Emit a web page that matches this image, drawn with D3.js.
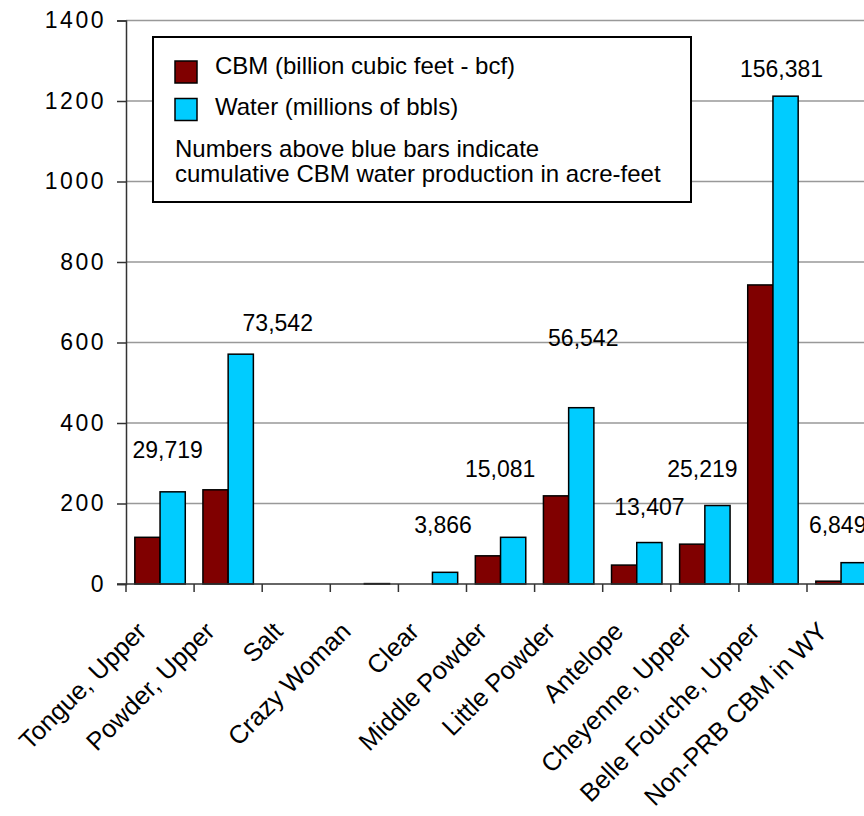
<!DOCTYPE html>
<html>
<head>
<meta charset="utf-8">
<script src="https://cdn.jsdelivr.net/npm/d3@7"></script>
<style>
  body { margin: 0; background: #fff; }
  text { font-family: "Liberation Sans", Arial, sans-serif; fill: #000; }
</style>
</head>
<body>
<div id="chart"></div>
<script>
// data
var categories = ["Tongue, Upper", "Powder, Upper", "Salt", "Crazy Woman", "Clear",
  "Middle Powder", "Little Powder", "Antelope", "Cheyenne, Upper",
  "Belle Fourche, Upper", "Non-PRB CBM in WY"];
var cbm   = [116, 234, 0, 0, 0, 70, 219, 47, 99, 743, 7];      // billion cubic feet
var water = [229, 571, 0, 1, 29, 116, 438, 103, 195, 1212, 53]; // millions of bbls
var acreFeet = [29719, 73542, null, null, 3866, 15081, 56542, 13407, 25219, 156381, 6849];
var yTicks = [0, 200, 400, 600, 800, 1000, 1200, 1400];

// where the hand placed annotation labels sit: [x shift px from blue bar centre, baseline in chart units]
var labelPlace = [[-5, 313], [37, 629], null, null, [-2, 127], [-13, 266],
  [2, 591], [0, 171], [-15, 266], [-4, 1260], [-16, 127]];

var width = 864, height = 816;
var plotLeft = 126, plotTop = 20.5, plotBottom = 584, step = 68.1;

var svg = d3.select("#chart").append("svg")
  .attr("width", width).attr("height", height);
svg.append("rect").attr("width", width).attr("height", height).attr("fill", "#fff");

var x = d3.scaleBand().domain(categories)
  .range([plotLeft, plotLeft + step * categories.length]).padding(0);
var xSub = d3.scaleBand().domain(["cbm", "water"])
  .range([0, x.bandwidth()]).paddingInner(0).paddingOuter(0.35);
var y = d3.scaleLinear().domain([0, 1400]).range([plotBottom, plotTop]);

// gridlines
svg.selectAll("line.grid")
  .data(yTicks.filter(function(d) { return d > 0; }))
  .enter().append("line")
  .attr("class", "grid")
  .attr("x1", plotLeft).attr("x2", width)
  .attr("y1", function(d) { return y(d); })
  .attr("y2", function(d) { return y(d); })
  .attr("stroke", "#999").attr("stroke-width", 1.5);

// bars
var rows = categories.map(function(c, i) {
  return { cat: c, cbm: cbm[i], water: water[i] };
});
var groups = svg.selectAll("g.cat").data(rows).enter().append("g")
  .attr("transform", function(d) { return "translate(" + x(d.cat) + ",0)"; });

groups.filter(function(d) { return d.cbm > 0; })
  .append("rect")
  .attr("x", xSub("cbm")).attr("width", xSub.bandwidth())
  .attr("y", function(d) { return y(d.cbm); })
  .attr("height", function(d) { return y(0) - y(d.cbm); })
  .attr("fill", "#800000").attr("stroke", "#000").attr("stroke-width", 1.5);

groups.filter(function(d) { return d.water > 0; })
  .append("rect")
  .attr("x", xSub("water")).attr("width", xSub.bandwidth())
  .attr("y", function(d) { return y(d.water); })
  .attr("height", function(d) { return y(0) - y(d.water); })
  .attr("fill", "#00ccff").attr("stroke", "#000").attr("stroke-width", 1.5);

// y axis
var yAxis = d3.axisLeft(y).tickValues(yTicks).tickFormat(d3.format("d"))
  .tickSize(9).tickPadding(11);
var ya = svg.append("g").attr("transform", "translate(" + plotLeft + ",0)").call(yAxis);
ya.select(".domain").attr("stroke", "#333").attr("stroke-width", 1.5);
ya.selectAll(".tick line").attr("stroke", "#333").attr("stroke-width", 1.5);
ya.selectAll(".tick text")
  .style("font-family", "Liberation Sans, Arial, sans-serif")
  .style("font-size", "23px").style("letter-spacing", "2.5px").attr("fill", "#000");

// x axis
svg.append("line")
  .attr("x1", plotLeft - 9).attr("x2", width)
  .attr("y1", plotBottom).attr("y2", plotBottom)
  .attr("stroke", "#333").attr("stroke-width", 1.5);
svg.selectAll("line.xtick")
  .data(categories).enter().append("line")
  .attr("x1", function(d) { return x(d); })
  .attr("x2", function(d) { return x(d); })
  .attr("y1", plotBottom).attr("y2", plotBottom + 8)
  .attr("stroke", "#333").attr("stroke-width", 1.5);

svg.selectAll("text.cat")
  .data(categories).enter().append("text")
  .attr("transform", function(d) {
    return "translate(" + (x(d) + x.bandwidth() / 2 - 12) + "," + (plotBottom + 49) + ") rotate(-45)";
  })
  .attr("text-anchor", "end")
  .style("font-size", "25.5px")
  .text(function(d) { return d; });

// acre-feet annotations
var fmt = d3.format(",");
acreFeet.forEach(function(v, i) {
  if (v == null) return;
  var cx = x(categories[i]) + xSub("water") + xSub.bandwidth() / 2 + labelPlace[i][0];
  svg.append("text")
    .attr("x", cx).attr("y", y(labelPlace[i][1]))
    .attr("text-anchor", "middle")
    .style("font-size", "23px")
    .text(fmt(v));
});

// legend
var lg = svg.append("g");
lg.append("rect")
  .attr("x", 153).attr("y", 37).attr("width", 538).attr("height", 165)
  .attr("fill", "#fff").attr("stroke", "#000").attr("stroke-width", 2);
var keys = [
  { label: "CBM (billion cubic feet - bcf)", color: "#800000" },
  { label: "Water (millions of bbls)", color: "#00ccff" }
];
keys.forEach(function(k, i) {
  lg.append("rect")
    .attr("x", 175).attr("y", 61 + i * 37.5).attr("width", 22).attr("height", 22)
    .attr("fill", k.color).attr("stroke", "#000").attr("stroke-width", 1.5);
  lg.append("text")
    .attr("x", 215).attr("y", 73.5 + i * 41.5)
    .style("font-size", "24px")
    .text(k.label);
});
lg.append("text").attr("x", 175).attr("y", 157).style("font-size", "24px")
  .text("Numbers above blue bars indicate");
lg.append("text").attr("x", 175).attr("y", 182).style("font-size", "24px")
  .text("cumulative CBM water production in acre-feet");
</script>
</body>
</html>
